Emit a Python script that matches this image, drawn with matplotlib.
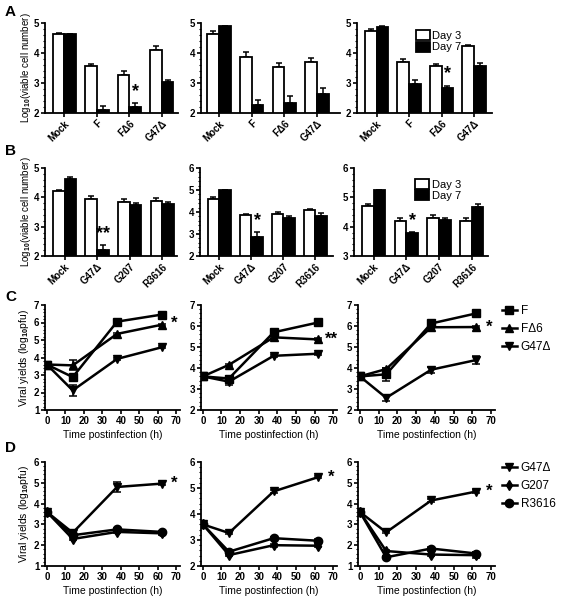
import numpy as np
import matplotlib
matplotlib.use('Agg')
import matplotlib.pyplot as plt
from matplotlib.lines import Line2D
from matplotlib.ticker import MultipleLocator

plt.rcParams['font.family'] = ['Liberation Sans', 'DejaVu Sans']
plt.rcParams['font.weight'] = 'bold'
plt.rcParams['font.size'] = 7
plt.rcParams['mathtext.fontset'] = 'custom'
plt.rcParams['mathtext.rm'] = 'Liberation Sans:bold'
plt.rcParams['mathtext.it'] = 'Liberation Sans:bold'
plt.rcParams['mathtext.bf'] = 'Liberation Sans:bold'

# --- data: cell survival (rows A, B) ---
groups_A = ['Mock', 'F', 'FΔ6', 'G47Δ']
A_day3 = [[4.63, 3.56, 3.28, 4.11], [4.64, 3.88, 3.52, 3.71], [4.72, 3.71, 3.56, 4.22]]
A_day3_err = [[0.03, 0.07, 0.12, 0.11], [0.1, 0.14, 0.16, 0.14], [0.08, 0.09, 0.08, 0.05]]
A_day7 = [[4.63, 2.1, 2.2, 3.03], [4.89, 2.27, 2.33, 2.64], [4.87, 2.98, 2.84, 3.58]]
A_day7_err = [[0.02, 0.15, 0.13, 0.08], [0.02, 0.17, 0.22, 0.2], [0.02, 0.11, 0.07, 0.1]]
A_ylim = [(2, 5), (2, 5), (2, 5)]
A_star = [(2, '*'), None, (2, '*')]

groups_B = ['Mock', 'G47Δ', 'G207', 'R3616']
B_day3 = [[4.22, 3.96, 3.84, 3.86], [4.59, 3.87, 3.93, 4.07], [4.72, 4.19, 4.29, 4.21]]
B_day3_err = [[0.02, 0.07, 0.1, 0.11], [0.08, 0.02, 0.07, 0.05], [0.06, 0.1, 0.1, 0.09]]
B_day7 = [[4.62, 2.2, 3.74, 3.78], [5.01, 2.87, 3.74, 3.82], [5.24, 3.78, 4.22, 4.67]]
B_day7_err = [[0.08, 0.17, 0.07, 0.06], [0.01, 0.2, 0.1, 0.12], [0.02, 0.03, 0.06, 0.1]]
B_ylim = [(2, 5), (2, 6), (3, 6)]
B_star = [(1, '**'), (1, '*'), (1, '*')]

# --- data: viral yields (rows C, D) ---
hours = [0, 14, 38, 62]
C_names = ['F', 'FΔ6', 'G47Δ']
C_markers = ['s', '^', 'v']
C_vals = [
    [[3.6, 2.88, 6.05, 6.45], [3.6, 3.55, 5.35, 5.87], [3.6, 2.12, 3.92, 4.58]],
    [[3.6, 3.5, 5.7, 6.17], [3.6, 4.15, 5.46, 5.36], [3.6, 3.35, 4.58, 4.68]],
    [[3.6, 3.7, 6.12, 6.6], [3.6, 3.95, 5.94, 5.95], [3.6, 2.58, 3.92, 4.38]],
]
C_err = [
    [[0, 0.1, 0.05, 0.05], [0, 0.28, 0.05, 0.05], [0, 0.3, 0.08, 0.05]],
    [[0, 0.1, 0.05, 0.05], [0, 0.05, 0.05, 0.05], [0, 0.15, 0.05, 0.05]],
    [[0, 0.3, 0.08, 0.05], [0, 0.05, 0.05, 0.05], [0, 0.15, 0.15, 0.2]],
]
C_ylim = [(1, 7), (2, 7), (2, 7)]
C_star = ['*', '**', '*']
C_star_y = [5.95, 5.36, 5.95]

D_names = ['G47Δ', 'G207', 'R3616']
D_markers = ['v', 'd', 'o']
D_vals = [
    [[3.6, 2.6, 4.8, 4.96], [3.6, 2.3, 2.64, 2.57], [3.6, 2.48, 2.76, 2.64]],
    [[3.6, 3.27, 4.87, 5.42], [3.6, 2.42, 2.8, 2.78], [3.6, 2.55, 3.07, 2.97]],
    [[3.6, 2.62, 4.15, 4.58], [3.6, 1.72, 1.55, 1.52], [3.6, 1.42, 1.84, 1.6]],
]
D_err = [
    [[0, 0.08, 0.25, 0.08], [0, 0.05, 0.05, 0.1], [0, 0.05, 0.05, 0.05]],
    [[0, 0.05, 0.05, 0.05], [0, 0.05, 0.05, 0.05], [0, 0.05, 0.05, 0.05]],
    [[0, 0.05, 0.05, 0.05], [0, 0.05, 0.05, 0.15], [0, 0.05, 0.05, 0.05]],
]
D_ylim = [(1, 6), (2, 6), (1, 6)]
D_star = ['*', '*', '*']
D_star_y = [4.96, 5.42, 4.58]

W, H = 561, 600
fig = plt.figure(figsize=(W / 100, H / 100), dpi=100)
legend_font = {'family': ['Liberation Sans', 'DejaVu Sans'], 'weight': 'normal'}


def rect(x0, y0, x1, y1):
    # pixel box (left, top, right, bottom) -> figure fraction
    return [x0 / W, 1 - y1 / H, (x1 - x0) / W, (y1 - y0) / H]


def style(ax):
    for s in ['top', 'right']:
        ax.spines[s].set_visible(False)
    for s in ['left', 'bottom']:
        ax.spines[s].set_linewidth(1.3)
    ax.tick_params(width=1.2, length=3, pad=1, labelsize=7)
    ax.tick_params(which='minor', width=0.8, length=1.5)


def bar_panel(ax, groups, d3, d3e, d7, d7e, ylim, star, xlim):
    x = np.arange(len(groups))
    w = 0.36
    ax.bar(x - w / 2, d3, w, color='white', edgecolor='black', linewidth=1.3, zorder=2)
    ax.bar(x + w / 2, d7, w, color='black', edgecolor='black', linewidth=1.3, zorder=2)
    ax.errorbar(x - w / 2, d3, yerr=[np.zeros(len(x)), d3e], fmt='none', ecolor='black',
                elinewidth=1.1, capsize=2.5, capthick=1.1, zorder=1)
    ax.errorbar(x + w / 2, d7, yerr=[np.zeros(len(x)), d7e], fmt='none', ecolor='black',
                elinewidth=1.1, capsize=2.5, capthick=1.1, zorder=1)
    ax.set_ylim(*ylim)
    ax.set_xlim(*xlim)
    ax.set_yticks(np.arange(ylim[0], ylim[1] + 1))
    ax.yaxis.set_minor_locator(MultipleLocator(0.2))
    ax.set_xticks(x)
    ax.set_xticklabels(groups, rotation=45, ha='right', rotation_mode='anchor', fontsize=7.5)
    style(ax)
    if star is not None:
        i, s = star
        off = 0.13 * (ylim[1] - ylim[0])
        ax.text(i + w / 2, d7[i] + d7e[i] + off, s, ha='center', va='center', fontsize=13)


def line_panel(ax, vals, errs, markers, ylim, star, star_y):
    for v, e, m in zip(vals, errs, markers):
        ax.errorbar(hours, v, yerr=e, color='black', lw=1.8, marker=m, ms=6 if m != 'd' else 5,
                    capsize=3, elinewidth=1.1, capthick=1.1)
    ax.set_xlim(-1, 72)
    ax.set_ylim(*ylim)
    ax.set_xticks(np.arange(0, 71, 10))
    ax.set_yticks(np.arange(ylim[0], ylim[1] + 1))
    ax.yaxis.set_minor_locator(MultipleLocator(0.2))
    ax.set_xlabel('Time postinfection (h)', fontsize=7.5, labelpad=3)
    style(ax)
    ax.text(69, star_y, star, ha='center', va='center', fontsize=12)


def line_legend(ax, markers, names):
    handles = [Line2D([], [], color='black', lw=1.8, marker=m, ms=6 if m != 'd' else 5)
               for m in markers]
    ax.legend(handles, names, loc='upper left', bbox_to_anchor=(1.05, 1.0), frameon=False,
              borderaxespad=0, borderpad=0, handlelength=1.25, handletextpad=0.35,
              labelspacing=0.5, prop=dict(legend_font, size=8.5))


def bar_legend(ax, anchor):
    ax.legend(['Day 3', 'Day 7'], loc='upper left', bbox_to_anchor=anchor, frameon=False,
              handlelength=1.3, handleheight=1.0, handletextpad=0.2, labelspacing=0.05,
              prop=dict(legend_font, size=8))


rows_xy = [
    [(45, 23, 178, 113), (201, 23, 340, 113), (357, 23, 492, 113)],
    [(45, 168, 177, 256), (200, 168, 333, 256), (354, 168, 488, 256)],
    [(45, 305, 180, 410), (201, 305, 337, 410), (358, 305, 495, 410)],
    [(45, 462, 180, 566), (201, 462, 337, 566), (358, 462, 495, 566)],
]
xlims_A = [(-0.6, 3.5), (-0.55, 3.7), (-0.6, 3.55)]
xlims_B = [(-0.6, 3.45), (-0.6, 3.55), (-0.6, 3.5)]

for j in range(3):
    ax = fig.add_axes(rect(*rows_xy[0][j]))
    bar_panel(ax, groups_A, A_day3[j], A_day3_err[j], A_day7[j], A_day7_err[j], A_ylim[j], A_star[j], xlims_A[j])
    if j == 0:
        ax.set_ylabel('Log$_{10}$(viable cell number)', fontsize=7, labelpad=1)
    if j == 2:
        bar_legend(ax, (0.36, 1.03))

for j in range(3):
    ax = fig.add_axes(rect(*rows_xy[1][j]))
    bar_panel(ax, groups_B, B_day3[j], B_day3_err[j], B_day7[j], B_day7_err[j], B_ylim[j], B_star[j], xlims_B[j])
    if j == 0:
        ax.set_ylabel('Log$_{10}$(viable cell number)', fontsize=7, labelpad=1)
    if j == 2:
        bar_legend(ax, (0.38, 0.99))

for j in range(3):
    ax = fig.add_axes(rect(*rows_xy[2][j]))
    line_panel(ax, C_vals[j], C_err[j], C_markers, C_ylim[j], C_star[j], C_star_y[j])
    if j == 0:
        ax.set_ylabel('Viral yields (log$_{10}$pfu)', fontsize=7.5, labelpad=2)
    if j == 2:
        line_legend(ax, C_markers, C_names)

for j in range(3):
    ax = fig.add_axes(rect(*rows_xy[3][j]))
    line_panel(ax, D_vals[j], D_err[j], D_markers, D_ylim[j], D_star[j], D_star_y[j])
    if j == 0:
        ax.set_ylabel('Viral yields (log$_{10}$pfu)', fontsize=7.5, labelpad=2)
    if j == 2:
        line_legend(ax, D_markers, D_names)

for lab, y in zip('ABCD', [12, 151, 297, 448]):
    fig.text(5 / W, 1 - y / H, lab, fontsize=11, fontweight='bold', ha='left', va='center')

fig.savefig('out.png', dpi=100)
